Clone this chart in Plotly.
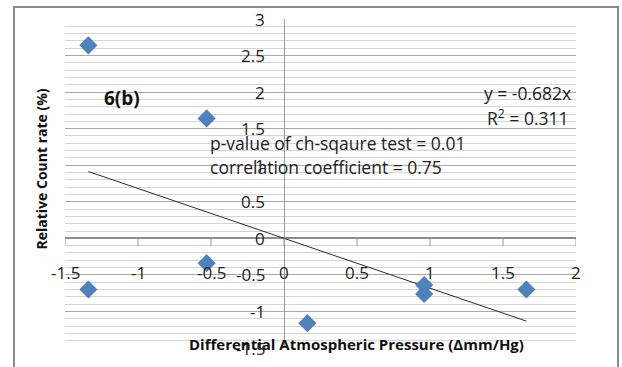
import numpy as np
import plotly.graph_objects as go

# Observed points: differential pressure vs relative count rate
pressure_diff = [-1.34, -0.53, -0.53, -1.34, 0.16, 0.96, 0.96, 1.66]
count_rate = [2.64, 1.64, -0.34, -0.70, -1.16, -0.64, -0.76, -0.70]

# Linear fit through the origin
slope = -0.682
r_squared = 0.311

x_ticks = [-1.5, -1, -0.5, 0, 0.5, 1, 1.5, 2]
x_tick_text = ["-1.5", "-1", "-0.5", "0", "0.5", "1", "1.5", "2"]
y_ticks = [3, 2.5, 2, 1.5, 1, 0.5, 0, -0.5, -1, -1.5]
y_tick_text = ["3", "2.5", "2", "1.5", "1", "0.5", "0", "-0.5", "-1", "-1.5"]

W, H = 622, 367
L, R, T, B = 65, 46, 19, 19
PW, PH = W - L - R, H - T - B

FONT = "Open Sans"
NARROW = "Liberation Sans Narrow, Open Sans"

def px_to_paper_x(px):
    return (px - L) / PW

def px_to_paper_y(py):
    return (H - B - py) / PH

fig = go.Figure()

# Trend line over the span of the data
x_fit = np.array([min(pressure_diff), max(pressure_diff)])
fig.add_trace(go.Scatter(
    x=x_fit, y=slope * x_fit, mode="lines",
    line=dict(color="#2b2b2b", width=1), hoverinfo="skip", showlegend=False,
))

fig.add_trace(go.Scatter(
    x=pressure_diff, y=count_rate, mode="markers",
    marker=dict(symbol="diamond", size=14, color="#4F81BD",
                line=dict(width=0)),
    showlegend=False,
))

fig.update_xaxes(
    range=[-1.5, 2], showgrid=False, zeroline=True, zerolinecolor="#9a9a9a",
    zerolinewidth=1, showticklabels=False, ticks="", showline=False,
)
fig.update_yaxes(
    range=[-1.5, 3], dtick=0.5, tick0=0, showgrid=True, gridcolor="#a8a8a8",
    gridwidth=1, zeroline=True, zerolinecolor="#8c8c8c", zerolinewidth=2,
    showticklabels=False, ticks="", showline=False,
    minor=dict(dtick=0.1, showgrid=True, gridcolor="#d4d4d4", gridwidth=1),
)

shapes = []
# Cross tick marks hanging below the horizontal axis
for xv in x_ticks:
    shapes.append(dict(type="line", xref="x", yref="y", ysizemode="pixel",
                       yanchor=0, x0=xv, x1=xv, y0=0, y1=-8,
                       line=dict(color="#9a9a9a", width=1)))
# Chart frame
shapes.append(dict(type="rect", xref="paper", yref="paper",
                   x0=px_to_paper_x(14), x1=px_to_paper_x(618),
                   y0=px_to_paper_y(380), y1=px_to_paper_y(7),
                   line=dict(color="#8a8a8a", width=2), layer="below"))

annotations = []
for xv, txt in zip(x_ticks, x_tick_text):
    annotations.append(dict(x=xv, y=0, xref="x", yref="y", text=txt,
                            showarrow=False, yshift=-34,
                            font=dict(family=FONT, size=17, color="#222")))
for yv, txt in zip(y_ticks, y_tick_text):
    annotations.append(dict(x=0, y=yv, xref="x", yref="y", text=txt,
                            showarrow=False, xanchor="right", xshift=-17,
                            font=dict(family=FONT, size=17, color="#222")))

annotations += [
    dict(x=px_to_paper_x(102), y=px_to_paper_y(83), xref="paper", yref="paper",
         text="<b>6(b)</b>", showarrow=False, xanchor="left",
         font=dict(family=FONT, size=19, color="#111")),
    dict(x=px_to_paper_x(573), y=px_to_paper_y(79), xref="paper", yref="paper",
         text=f"y = {slope}x", showarrow=False, xanchor="right",
         font=dict(family=FONT, size=17.5, color="#222")),
    dict(x=px_to_paper_x(571), y=px_to_paper_y(103), xref="paper", yref="paper",
         text=f"R<sup>2</sup> = {r_squared}", showarrow=False, xanchor="right",
         font=dict(family=FONT, size=17.5, color="#222")),
    dict(x=px_to_paper_x(208), y=px_to_paper_y(143), xref="paper", yref="paper",
         text="p-value of ch-sqaure test = 0.01", showarrow=False, xanchor="left",
         font=dict(family=FONT, size=17.5, color="#222")),
    dict(x=px_to_paper_x(208), y=px_to_paper_y(167), xref="paper", yref="paper",
         text="correlation coefficient = 0.75", showarrow=False, xanchor="left",
         font=dict(family=FONT, size=17.5, color="#222")),
    dict(x=px_to_paper_x(356), y=px_to_paper_y(356), xref="paper", yref="paper",
         text="<b>Differential Atmospheric Pressure (Δmm/Hg)</b>", showarrow=False,
         font=dict(family=FONT, size=15, color="#111")),
    dict(x=px_to_paper_x(29), y=px_to_paper_y(169), xref="paper", yref="paper",
         text="<b>Relative Count rate (%)</b>", showarrow=False, textangle=-90,
         font=dict(family=NARROW, size=14, color="#111")),
]

fig.update_layout(
    width=W, height=H,
    margin=dict(l=L, r=R, t=T, b=B),
    paper_bgcolor="white", plot_bgcolor="white",
    shapes=shapes, annotations=annotations,
)

fig.write_html("out.html")
